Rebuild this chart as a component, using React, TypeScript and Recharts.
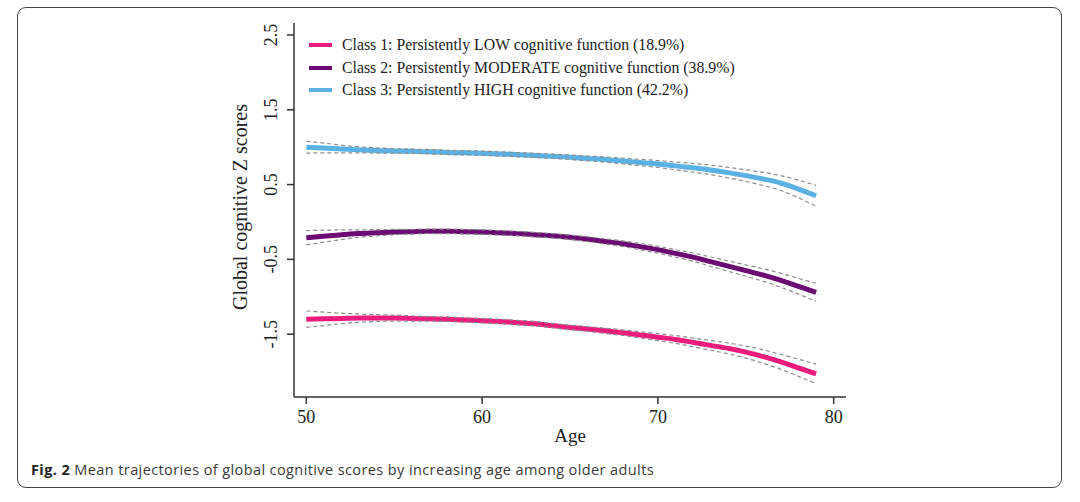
import { LineChart, Line, XAxis, YAxis } from 'recharts';

// ages on the x axis
const ages = [50, 51, 52, 53, 54, 55, 56, 57, 58, 59, 60, 61, 62, 63, 64, 65, 66, 67, 68, 69, 70, 71, 72, 73, 74, 75, 76, 77, 78, 79];

// mean trajectories
const class1 = [-1.3, -1.295, -1.29, -1.285, -1.285, -1.285, -1.29, -1.295, -1.3, -1.31, -1.32, -1.33, -1.345, -1.36, -1.385, -1.41, -1.43, -1.455, -1.48, -1.51, -1.54, -1.57, -1.61, -1.65, -1.69, -1.74, -1.8, -1.87, -1.95, -2.03];
const class2 = [-0.21, -0.19, -0.17, -0.155, -0.145, -0.135, -0.13, -0.125, -0.125, -0.13, -0.135, -0.145, -0.155, -0.17, -0.185, -0.205, -0.23, -0.26, -0.29, -0.33, -0.37, -0.42, -0.47, -0.53, -0.59, -0.65, -0.71, -0.78, -0.86, -0.94];
const class3 = [1.0, 0.99, 0.975, 0.965, 0.955, 0.95, 0.945, 0.94, 0.93, 0.925, 0.92, 0.91, 0.9, 0.89, 0.88, 0.865, 0.85, 0.835, 0.815, 0.795, 0.775, 0.75, 0.725, 0.695, 0.66, 0.62, 0.575, 0.52, 0.44, 0.35];

// half-width of the confidence band
const band1 = [0.11, 0.09, 0.07, 0.055, 0.045, 0.04, 0.035, 0.03, 0.03, 0.03, 0.03, 0.03, 0.03, 0.03, 0.03, 0.03, 0.032, 0.035, 0.038, 0.042, 0.046, 0.052, 0.058, 0.065, 0.072, 0.08, 0.09, 0.1, 0.115, 0.13];
const band2 = [0.095, 0.08, 0.065, 0.05, 0.042, 0.036, 0.032, 0.03, 0.03, 0.03, 0.03, 0.03, 0.03, 0.03, 0.03, 0.03, 0.032, 0.035, 0.038, 0.042, 0.046, 0.05, 0.055, 0.062, 0.069, 0.076, 0.084, 0.093, 0.105, 0.12];
const band3 = [0.08, 0.065, 0.05, 0.04, 0.035, 0.03, 0.028, 0.028, 0.028, 0.028, 0.028, 0.028, 0.028, 0.028, 0.028, 0.03, 0.032, 0.035, 0.038, 0.042, 0.046, 0.052, 0.058, 0.064, 0.07, 0.078, 0.088, 0.1, 0.118, 0.14];

const xTicks = [50, 60, 70, 80];
const yTicks = [-1.5, -0.5, 0.5, 1.5, 2.5];

const classes = [
  { key: 'c1', label: 'Class 1: Persistently LOW cognitive function (18.9%)', color: '#ec1c7d', mean: class1, band: band1 },
  { key: 'c2', label: 'Class 2: Persistently MODERATE cognitive function (38.9%)', color: '#6c0a73', mean: class2, band: band2 },
  { key: 'c3', label: 'Class 3: Persistently HIGH cognitive function (42.2%)', color: '#5ab2e4', mean: class3, band: band3 },
];

const data = ages.map((age, i) => {
  const row: Record<string, number> = { age };
  classes.forEach((c) => {
    row[c.key] = c.mean[i];
    row[c.key + 'lo'] = c.mean[i] - c.band[i];
    row[c.key + 'hi'] = c.mean[i] + c.band[i];
  });
  return row;
});

const SERIF = '"Liberation Serif", "Times New Roman", serif';

const YTick = (props: any) => {
  const { x, y, payload } = props;
  const tx = x - 7;
  return (
    <text x={tx} y={y} transform={`rotate(-90, ${tx}, ${y})`} textAnchor="middle" fontSize={18} fontFamily={SERIF} fill="#222">
      {payload.value.toFixed(1)}
    </text>
  );
};

const XTick = (props: any) => {
  const { x, y, payload } = props;
  return (
    <text x={x} y={y + 12} textAnchor="middle" fontSize={18} fontFamily={SERIF} fill="#222">
      {payload.value}
    </text>
  );
};

export default function App() {
  return (
    <div style={{ position: 'fixed', left: 0, top: 0, width: 1080, height: 502, background: '#fff' }}>
      <div
        style={{
          position: 'absolute',
          left: 17,
          top: 7,
          width: 1045,
          height: 481,
          border: '1.5px solid #444',
          borderRadius: 9,
          boxSizing: 'border-box',
        }}
      />
      <div style={{ position: 'absolute', left: 0, top: 0 }}>
        <LineChart width={1080} height={502} data={data} margin={{ top: 23, right: 234, left: 234, bottom: 55 }}>
          <XAxis
            dataKey="age"
            type="number"
            domain={[49.3, 80.7]}
            ticks={xTicks}
            allowDataOverflow
            height={50}
            tickSize={7}
            tickMargin={7}
            stroke="#333"
            strokeWidth={1.5}
            tick={<XTick />}
            label={{ value: 'Age', position: 'insideBottom', offset: 5, fontSize: 19, fontFamily: SERIF, fill: '#222' }}
          />
          <YAxis
            type="number"
            domain={[-2.34, 2.66]}
            ticks={yTicks}
            allowDataOverflow
            width={60}
            tickSize={7}
            tickMargin={3}
            stroke="#333"
            strokeWidth={1.5}
            tick={<YTick />}
            label={({ viewBox }: any) => (
              <text
                x={viewBox.x + 13}
                y={viewBox.y + viewBox.height / 2 - 3}
                transform={`rotate(-90, ${viewBox.x + 13}, ${viewBox.y + viewBox.height / 2 - 3})`}
                textAnchor="middle"
                fontSize={20}
                fontFamily={SERIF}
                fill="#222"
              >
                Global cognitive Z scores
              </text>
            )}
          />
          {classes.map((c) => (
            <Line
              key={c.key}
              dataKey={c.key}
              type="monotone"
              stroke={c.color}
              strokeWidth={5}
              dot={false}
              activeDot={false}
              isAnimationActive={false}
            />
          ))}
          {classes.flatMap((c) =>
            ['lo', 'hi'].map((s) => (
              <Line
                key={c.key + s}
                dataKey={c.key + s}
                type="monotone"
                stroke="#8c8c8c"
                strokeWidth={1.2}
                strokeDasharray="4 3"
                dot={false}
                activeDot={false}
                isAnimationActive={false}
              />
            ))
          )}
        </LineChart>
      </div>
      <div style={{ position: 'absolute', left: 309, top: 34, fontFamily: SERIF, fontSize: 15.8, color: '#222' }}>
        {classes.map((c) => (
          <div key={c.key} style={{ display: 'flex', alignItems: 'center', height: 22.5, whiteSpace: 'nowrap' }}>
            <span style={{ display: 'inline-block', width: 23, height: 4, background: c.color, marginRight: 10 }} />
            <span>{c.label}</span>
          </div>
        ))}
      </div>
      <div
        style={{
          position: 'absolute',
          left: 31,
          top: 460,
          fontFamily: '"Open Sans", sans-serif',
          fontSize: 14.5,
          letterSpacing: 0.4,
          color: '#3a3a3a',
          whiteSpace: 'nowrap',
        }}
      >
        <b style={{ color: '#222' }}>Fig. 2</b> Mean trajectories of global cognitive scores by increasing age among older adults
      </div>
    </div>
  );
}
